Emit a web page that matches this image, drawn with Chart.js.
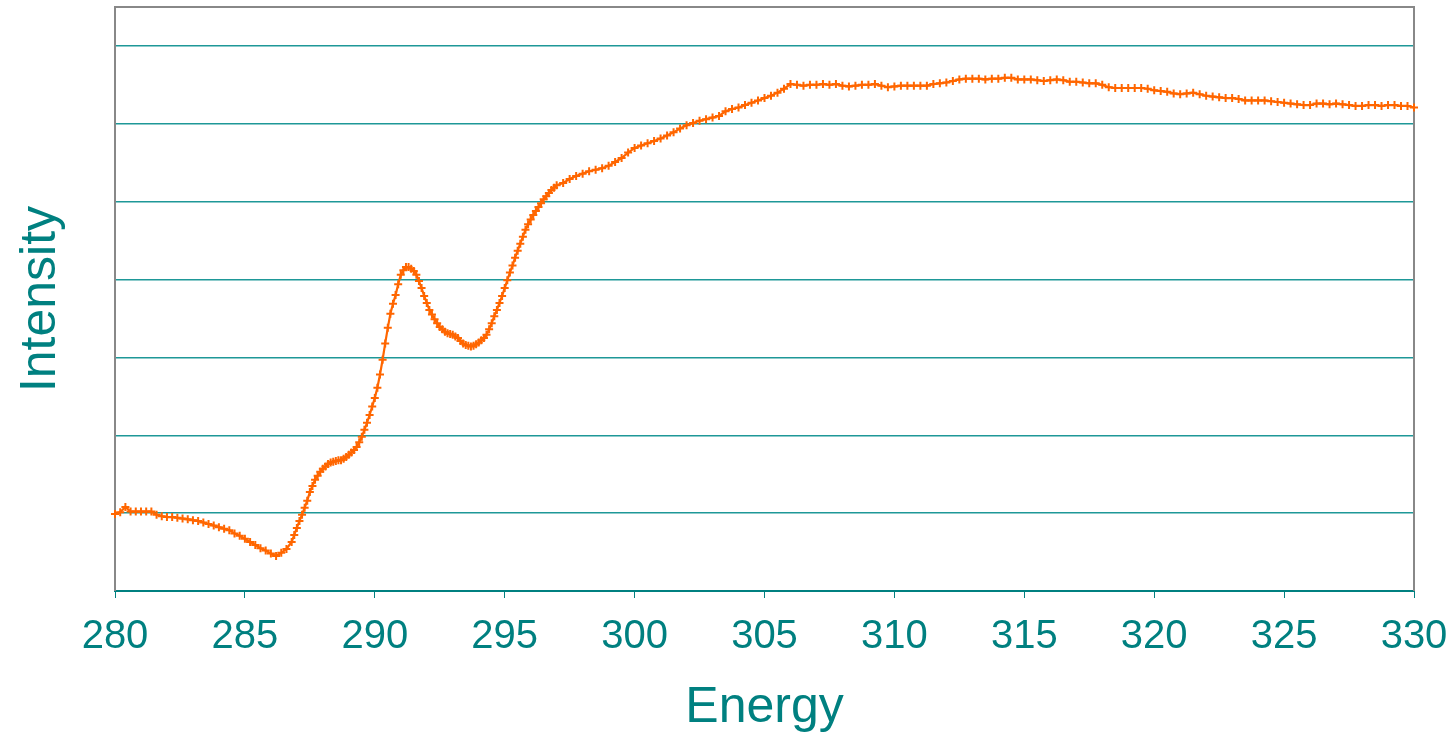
<!DOCTYPE html>
<html>
<head>
<meta charset="utf-8">
<title>Intensity vs Energy</title>
<script src="https://cdn.jsdelivr.net/npm/chart.js@4.4.0/dist/chart.umd.min.js"></script>
<style>
  html, body { margin: 0; padding: 0; background: #ffffff; }
  #wrap { width: 1454px; height: 734px; position: relative; }
</style>
</head>
<body>
<div id="wrap"><canvas id="spectrumChart"></canvas></div>
<script>
// energy (eV) and intensity
const energy = [
  280.0, 280.2, 280.4, 280.6, 280.8, 281.0, 281.2, 281.4, 281.6, 281.8,
  282.0, 282.2, 282.4, 282.6, 282.8, 283.0, 283.2, 283.4, 283.6, 283.8,
  284.0, 284.2, 284.4, 284.6, 284.8, 285.0, 285.2, 285.4, 285.6, 285.8,
  286.0, 286.2, 286.4, 286.6, 286.8,
  286.9, 287.0, 287.1, 287.2, 287.3, 287.4, 287.5, 287.6, 287.7, 287.8, 287.9,
  288.0, 288.1, 288.2, 288.3, 288.4, 288.5, 288.6, 288.7, 288.8, 288.9,
  289.0, 289.1, 289.2, 289.3, 289.4, 289.5, 289.6, 289.7, 289.8, 289.9,
  290.0, 290.1, 290.2, 290.3, 290.4, 290.5, 290.6, 290.7, 290.8, 290.9,
  291.0, 291.1, 291.2, 291.3, 291.4, 291.5, 291.6, 291.7, 291.8, 291.9,
  292.0, 292.1, 292.2, 292.3, 292.4, 292.5, 292.6, 292.7, 292.8, 292.9,
  293.0, 293.1, 293.2, 293.3, 293.4, 293.5, 293.6, 293.7, 293.8, 293.9,
  294.0, 294.1, 294.2, 294.3, 294.4, 294.5, 294.6, 294.7, 294.8, 294.9,
  295.0, 295.1, 295.2, 295.3, 295.4, 295.5, 295.6, 295.7, 295.8, 295.9,
  296.0, 296.1, 296.2, 296.3, 296.4, 296.5, 296.6, 296.7, 296.8, 296.9,
  297.0, 297.25, 297.5, 297.75, 298.0, 298.25, 298.5, 298.75,
  299.0, 299.25, 299.5, 299.75, 300.0, 300.25, 300.5, 300.75,
  301.0, 301.25, 301.5, 301.75, 302.0, 302.25, 302.5, 302.75,
  303.0, 303.25, 303.5, 303.75, 304.0, 304.25, 304.5, 304.75,
  305.0, 305.25, 305.5, 305.75, 306.0, 306.25, 306.5, 306.75,
  307.0, 307.25, 307.5, 307.75, 308.0, 308.25, 308.5, 308.75,
  309.0, 309.25, 309.5, 309.75, 310.0, 310.25, 310.5, 310.75,
  311.0, 311.25, 311.5, 311.75, 312.0, 312.25, 312.5, 312.75,
  313.0, 313.25, 313.5, 313.75, 314.0, 314.25, 314.5, 314.75,
  315.0, 315.25, 315.5, 315.75, 316.0, 316.25, 316.5, 316.75,
  317.0, 317.25, 317.5, 317.75, 318.0, 318.25, 318.5, 318.75,
  319.0, 319.25, 319.5, 319.75, 320.0, 320.25, 320.5, 320.75,
  321.0, 321.25, 321.5, 321.75, 322.0, 322.25, 322.5, 322.75,
  323.0, 323.25, 323.5, 323.75, 324.0, 324.25, 324.5, 324.75,
  325.0, 325.25, 325.5, 325.75, 326.0, 326.25, 326.5, 326.75,
  327.0, 327.25, 327.5, 327.75, 328.0, 328.25, 328.5, 328.75,
  329.0, 329.25, 329.5, 329.75, 330.0
];

const intensity = [
  0.99, 1.01, 1.08, 1.02, 1.02, 1.02, 1.02, 1.02, 0.98, 0.96,
  0.95, 0.95, 0.94, 0.93, 0.92, 0.91, 0.90, 0.88, 0.86, 0.84,
  0.82, 0.80, 0.78, 0.74, 0.71, 0.67, 0.63, 0.59, 0.55, 0.52,
  0.48, 0.45, 0.49, 0.54, 0.63,
  0.72, 0.81, 0.90, 0.98, 1.07, 1.16, 1.27, 1.35, 1.43, 1.48, 1.53,
  1.57, 1.60, 1.63, 1.65, 1.66, 1.67, 1.68, 1.68, 1.70, 1.72,
  1.75, 1.78, 1.81, 1.85, 1.91, 1.98, 2.07, 2.16, 2.26, 2.37,
  2.48, 2.61, 2.78, 2.97, 3.18, 3.38, 3.56, 3.69, 3.80, 3.94,
  4.06, 4.12, 4.16, 4.16, 4.14, 4.11, 4.06, 3.98, 3.89, 3.79,
  3.70, 3.61, 3.55, 3.49, 3.44, 3.39, 3.36, 3.33, 3.31, 3.30,
  3.29, 3.27, 3.25, 3.21, 3.18, 3.16, 3.15, 3.14, 3.15, 3.17,
  3.19, 3.22, 3.25, 3.29, 3.36, 3.44, 3.53, 3.61, 3.70, 3.79,
  3.89, 3.99, 4.09, 4.18, 4.28, 4.37, 4.46, 4.55, 4.64, 4.71,
  4.77, 4.83, 4.88, 4.93, 4.98, 5.03, 5.07, 5.11, 5.15, 5.18,
  5.21, 5.24, 5.29, 5.33, 5.36, 5.39, 5.41, 5.43,
  5.46, 5.51, 5.56, 5.63, 5.69, 5.72, 5.75, 5.78,
  5.81, 5.85, 5.89, 5.94, 5.98, 6.01, 6.04, 6.06,
  6.08, 6.10, 6.16, 6.19, 6.21, 6.24, 6.27, 6.30,
  6.33, 6.36, 6.40, 6.45, 6.51, 6.50, 6.49, 6.50,
  6.50, 6.51, 6.50, 6.51, 6.49, 6.48, 6.49, 6.50,
  6.50, 6.51, 6.49, 6.47, 6.48, 6.49, 6.49, 6.49,
  6.49, 6.49, 6.51, 6.52, 6.53, 6.55, 6.57, 6.58,
  6.58, 6.58, 6.57, 6.58, 6.58, 6.59, 6.59, 6.57,
  6.57, 6.57, 6.56, 6.55, 6.56, 6.57, 6.56, 6.54,
  6.54, 6.53, 6.52, 6.52, 6.50, 6.47, 6.46, 6.46,
  6.46, 6.46, 6.46, 6.45, 6.43, 6.42, 6.41, 6.39,
  6.38, 6.39, 6.40, 6.38, 6.36, 6.35, 6.34, 6.33,
  6.33, 6.32, 6.30, 6.30, 6.30, 6.30, 6.29, 6.28,
  6.27, 6.26, 6.25, 6.24, 6.24, 6.26, 6.26, 6.25,
  6.26, 6.25, 6.24, 6.23, 6.23, 6.24, 6.24, 6.23,
  6.24, 6.24, 6.23, 6.23, 6.21
];

const xTicks = [280, 285, 290, 295, 300, 305, 310, 315, 320, 325, 330];

const TEAL = "#008080";
const GRID = "#1e9898";
const ORANGE = "#FF6600";
const FONT = "'Liberation Sans', Arial, sans-serif";

// gray frame on left, top and right of the plot area
const framePlugin = {
  id: "frame",
  beforeDatasetsDraw(chart) {
    const { ctx, chartArea: a } = chart;
    ctx.save();
    ctx.strokeStyle = "#888888";
    ctx.lineWidth = 2;
    ctx.beginPath();
    ctx.moveTo(a.left, a.bottom);
    ctx.lineTo(a.left, a.top);
    ctx.lineTo(a.right, a.top);
    ctx.lineTo(a.right, a.bottom);
    ctx.stroke();
    ctx.restore();
  },
};

const ctx = document.getElementById("spectrumChart").getContext("2d");

new Chart(ctx, {
  type: "scatter",
  data: {
    datasets: [
      {
        data: energy.map((e, i) => ({ x: e, y: intensity[i] })),
        showLine: true,
        borderColor: ORANGE,
        backgroundColor: ORANGE,
        borderWidth: 2.2,
        pointStyle: "cross",
        pointRadius: 4,
        pointBorderWidth: 2,
        pointBorderColor: ORANGE,
        pointHoverRadius: 4,
        tension: 0,
        clip: false,
      },
    ],
  },
  options: {
    responsive: true,
    maintainAspectRatio: false,
    animation: false,
    devicePixelRatio: 1,
    layout: { padding: { top: 7, right: 40, left: 0, bottom: 0 } },
    plugins: {
      legend: { display: false },
      tooltip: { enabled: false },
    },
    scales: {
      x: {
        type: "linear",
        min: 280,
        max: 330,
        afterBuildTicks: (axis) => {
          axis.ticks = xTicks.map((v) => ({ value: v }));
        },
        afterFit: (axis) => {
          axis.height = 143;
          axis.paddingLeft = 0;
          axis.paddingRight = 0;
        },
        ticks: {
          color: TEAL,
          font: { family: FONT, size: 40 },
          padding: 15,
          maxRotation: 0,
          autoSkip: false,
        },
        grid: {
          drawOnChartArea: false,
          drawTicks: true,
          tickLength: 7,
          color: TEAL,
          lineWidth: 1,
        },
        border: { display: true, color: TEAL, width: 2 },
        title: {
          display: true,
          text: "Energy",
          color: TEAL,
          font: { family: FONT, size: 50 },
          padding: { top: 0, bottom: -4 },
        },
      },
      y: {
        type: "linear",
        min: 0,
        max: 7.5,
        afterFit: (axis) => {
          axis.width = 115;
        },
        ticks: { display: false, stepSize: 1 },
        grid: {
          drawTicks: false,
          color: (c) =>
            c.tick && c.tick.value > 0 && c.tick.value < 7.5 ? GRID : "rgba(0,0,0,0)",
          lineWidth: 1.4,
        },
        border: { display: false },
        title: {
          display: true,
          text: "Intensity",
          color: TEAL,
          font: { family: FONT, size: 50 },
          padding: { top: 11, bottom: 0 },
        },
      },
    },
  },
  plugins: [framePlugin],
});
</script>
</body>
</html>
